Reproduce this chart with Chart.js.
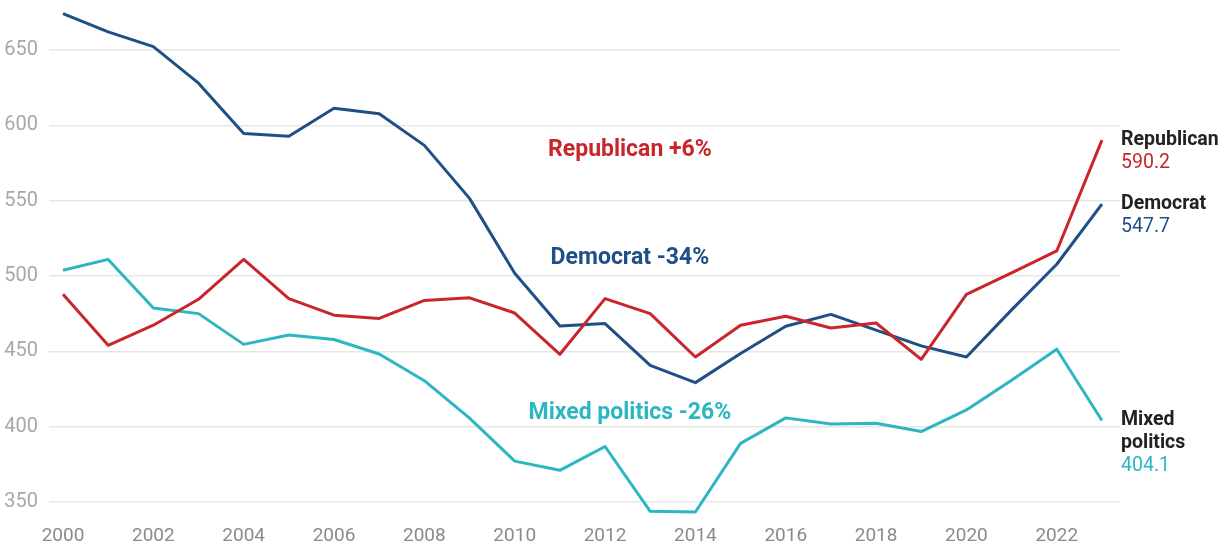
<!DOCTYPE html>
<html>
<head>
<meta charset="utf-8">
<script src="https://cdn.jsdelivr.net/npm/chart.js@4/dist/chart.umd.min.js"></script>
<style>
  html, body { margin: 0; padding: 0; background: #ffffff; }
  #wrap { width: 1229px; height: 548px; position: relative; }
</style>
</head>
<body>
<div id="wrap"><canvas id="chart"></canvas></div>
<script>
// Yearly values by party control, 2000–2023
const years = [2000, 2001, 2002, 2003, 2004, 2005, 2006, 2007, 2008, 2009, 2010, 2011,
               2012, 2013, 2014, 2015, 2016, 2017, 2018, 2019, 2020, 2021, 2022, 2023];
const republican = [487.9, 454.0, 467.3, 484.5, 511.0, 485.0, 474.0, 471.8, 483.8, 485.5, 475.4, 448.0,
                    485.0, 475.0, 446.2, 467.3, 473.3, 465.5, 468.8, 444.6, 487.8, 502.0, 516.6, 590.2];
const democrat = [674.2, 662.0, 652.2, 628.0, 594.5, 592.7, 611.3, 607.7, 586.7, 551.5, 501.8, 466.8,
                  468.4, 440.7, 429.2, 448.5, 466.6, 474.5, 464.0, 453.6, 446.2, 477.5, 507.8, 547.7];
const mixedPolitics = [503.8, 511.0, 478.8, 475.0, 454.6, 460.8, 457.8, 448.2, 430.5, 405.6, 377.1, 371.0,
                       386.8, 343.8, 343.3, 388.9, 405.8, 401.8, 402.2, 396.7, 411.1, 430.8, 451.4, 404.1];

const xTickYears = [2000, 2002, 2004, 2006, 2008, 2010, 2012, 2014, 2016, 2018, 2020, 2022];
const yTickValues = [350, 400, 450, 500, 550, 600, 650];

const seriesNames = ['Republican', 'Democrat', 'Mixed politics'];
const endLabels = [['Republican'], ['Democrat'], ['Mixed', 'politics']];
const changeLabels = ['Republican +6%', 'Democrat -34%', 'Mixed politics -26%'];

const colors = ['#c9262c', '#1f4f87', '#2cb6c2'];
const FONT = 'Roboto, "Noto Sans", sans-serif';

const toPoints = arr => arr.map((v, i) => ({ x: years[i], y: v }));

// In-chart change captions, placed in data coordinates
const captionAnchors = [
  { x: 2012.55, y: 583.5 },
  { x: 2012.55, y: 512.0 },
  { x: 2012.55, y: 409.0 }
];

const labelPlugin = {
  id: 'seriesLabels',
  afterDatasetsDraw(chart) {
    const { ctx, scales: { x, y }, chartArea } = chart;
    ctx.save();
    ctx.textBaseline = 'middle';

    // Change captions in the middle of the plot
    ctx.textAlign = 'center';
    ctx.font = 'bold 23px ' + FONT;
    changeLabels.forEach((t, i) => {
      ctx.fillStyle = colors[i];
      ctx.fillText(t, x.getPixelForValue(captionAnchors[i].x), y.getPixelForValue(captionAnchors[i].y));
    });

    // Names and final values at the right end of each line
    ctx.textAlign = 'left';
    const series = [republican, democrat, mixedPolitics];
    const lx = chartArea.right + 1;
    series.forEach((arr, i) => {
      const last = arr[arr.length - 1];
      let ly = y.getPixelForValue(last);
      ctx.font = 'bold 19.5px ' + FONT;
      ctx.fillStyle = '#222222';
      endLabels[i].forEach(line => {
        ctx.fillText(line, lx, ly);
        ly += 23;
      });
      ctx.font = '19.5px ' + FONT;
      ctx.fillStyle = colors[i];
      ctx.fillText(last.toFixed(1), lx, ly);
    });
    ctx.restore();
  }
};

new Chart(document.getElementById('chart'), {
  type: 'line',
  data: {
    datasets: [republican, democrat, mixedPolitics].map((arr, i) => ({
      label: seriesNames[i],
      data: toPoints(arr),
      borderColor: colors[i],
      backgroundColor: colors[i],
      borderWidth: 3,
      pointRadius: 0,
      tension: 0,
      borderJoinStyle: 'round',
      clip: false
    }))
  },
  options: {
    responsive: true,
    maintainAspectRatio: false,
    animation: false,
    layout: { padding: { left: 0, right: 109, top: 0, bottom: 0 } },
    plugins: {
      legend: { display: false },
      tooltip: { enabled: false }
    },
    scales: {
      x: {
        type: 'linear',
        min: 1999.69,
        max: 2023.4,
        afterBuildTicks: scale => { scale.ticks = xTickYears.map(v => ({ value: v })); },
        afterFit: scale => { scale.height = 31; },
        grid: { display: false, drawTicks: false },
        border: { display: false },
        ticks: {
          color: '#8a8a8a',
          font: { family: FONT, size: 19 },
          padding: 8,
          maxRotation: 0,
          callback: v => String(v)
        }
      },
      y: {
        min: 340,
        max: 683.2,
        afterBuildTicks: scale => { scale.ticks = yTickValues.map(v => ({ value: v })); },
        afterFit: scale => {
          scale.width = 49;
          scale.paddingTop = 0;
          scale.paddingBottom = 0;
        },
        grid: { color: '#e6e6e6', lineWidth: 1.5, drawTicks: false },
        border: { display: false },
        ticks: {
          color: '#a8a8a8',
          font: { family: FONT, size: 20 },
          padding: 11,
          callback: v => String(v)
        }
      }
    }
  },
  plugins: [labelPlugin]
});
</script>
</body>
</html>
